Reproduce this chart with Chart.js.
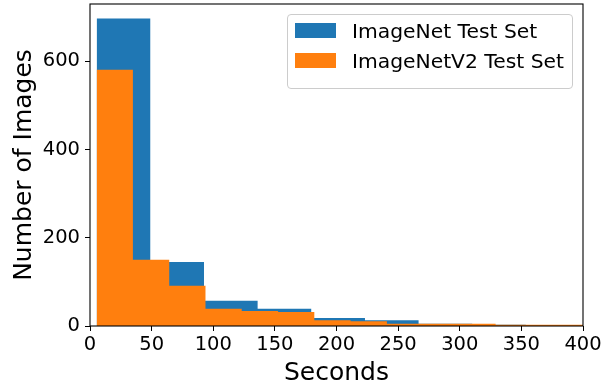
<!DOCTYPE html>
<html>
<head>
<meta charset="utf-8">
<script src="https://cdn.jsdelivr.net/npm/chart.js@4"></script>
<style>
    body { margin: 0; background: #fff; }
    #wrap { position: relative; width: 603px; height: 387px; }
    #legend {
        position: absolute; left: 287px; top: 14px; width: 284px; height: 73px;
        border: 1px solid #cccccc; border-radius: 4px; background: rgba(255,255,255,0.8);
        font-family: 'DejaVu Sans', sans-serif; font-size: 20.3px; color: #000;
    }
    .row { position: absolute; left: 0; height: 20px; line-height: 20.3px; white-space: nowrap; }
    .swatch { position: absolute; left: 7px; width: 41px; height: 15px; }
    .label { position: absolute; left: 64px; top: 0; }
</style>
</head>
<body>
<div id="wrap">
    <canvas id="chart" width="603" height="387"></canvas>
    <div id="legend"></div>
</div>
<script>
// --- DATA ---

const seriesLabels = ['ImageNet Test Set', 'ImageNetV2 Test Set'];
const seriesColors = ['#1f77b4', '#ff7f0e'];

// ImageNet: 10 bins
const imagenetEdges = [5.4, 48.9, 92.5, 136.0, 179.5, 223.1, 266.6, 310.1, 353.6, 397.2, 440.7];
const imagenetCounts = [697, 145, 57, 39, 18, 13, 5, 3, 2, 1];

// ImageNetV2: narrower bins
const v2Edges = [5.4, 34.8, 64.3, 93.7, 123.1, 152.6, 182.0, 211.4, 240.9, 270.3, 299.7, 329.1, 358.6, 388.0, 417.4];
const v2Counts = [581, 150, 91, 39, 34, 32, 13, 11, 5, 5, 5, 3, 3, 3];

const xTicks = [0, 50, 100, 150, 200, 250, 300, 350, 400];
const yTicks = [0, 200, 400, 600];

// --- HELPERS ---

// step outline of a histogram: one point per left edge, plus the final right edge
function histPoints(edges, counts) {
    const pts = counts.map((c, i) => ({ x: edges[i], y: c }));
    pts.push({ x: edges[edges.length - 1], y: counts[counts.length - 1] });
    return pts;
}

function histDataset(label, color, edges, counts, order) {
    return {
        label: label,
        data: histPoints(edges, counts),
        stepped: 'before',
        fill: 'origin',
        backgroundColor: color,
        borderColor: 'rgba(0,0,0,0)',
        borderWidth: 0,
        pointRadius: 0,
        tension: 0,
        order: order
    };
}

// matplotlib style box round the plot area, drawn over the bars
const framePlugin = {
    id: 'frame',
    afterDatasetsDraw(chart) {
        const { ctx, chartArea: a } = chart;
        ctx.save();
        ctx.strokeStyle = '#000';
        ctx.lineWidth = 1.1;
        ctx.strokeRect(a.left, a.top, a.right - a.left, a.bottom - a.top);
        ctx.restore();
    }
};

// --- CHART ---

Chart.defaults.font.family = "'DejaVu Sans', sans-serif";
Chart.defaults.color = '#000';

const tickGrid = { display: true, drawOnChartArea: false, drawTicks: true, tickLength: 5, color: '#000', lineWidth: 1 };

new Chart(document.getElementById('chart'), {
    type: 'line',
    data: {
        datasets: [
            histDataset(seriesLabels[0], seriesColors[0], imagenetEdges, imagenetCounts, 2),
            histDataset(seriesLabels[1], seriesColors[1], v2Edges, v2Counts, 1)
        ]
    },
    options: {
        responsive: false,
        animation: false,
        layout: { padding: { top: 4, right: 20, left: 0, bottom: 0 } },
        plugins: { legend: { display: false }, tooltip: { enabled: false } },
        scales: {
            x: {
                type: 'linear',
                min: 0,
                max: 400,
                border: { display: false },
                grid: tickGrid,
                ticks: { font: { size: 19.5 }, padding: 2, maxRotation: 0 },
                afterBuildTicks: s => { s.ticks = xTicks.map(v => ({ value: v })); },
                afterFit: s => { s.height = 61; s.paddingLeft = 0; s.paddingRight = 0; },
                title: { display: true, text: 'Seconds', font: { size: 25 }, padding: { top: 0, bottom: -1 } }
            },
            y: {
                min: 0,
                max: 730,
                border: { display: false },
                grid: tickGrid,
                ticks: { font: { size: 19.5 }, padding: 5 },
                afterBuildTicks: s => { s.ticks = yTicks.map(v => ({ value: v })); },
                afterFit: s => { s.width = 90; s.paddingTop = 0; s.paddingBottom = 0; },
                title: { display: true, text: 'Number of Images', font: { size: 25 }, padding: { top: 9, bottom: 0 } }
            }
        }
    },
    plugins: [framePlugin]
});

// --- LEGEND (html, over the plot area) ---

const legendEl = document.getElementById('legend');
seriesLabels.forEach((label, i) => {
    const row = document.createElement('div');
    row.className = 'row';
    row.style.top = (6 + i * 30) + 'px';
    row.innerHTML = `<span class="swatch" style="top:2px;background:${seriesColors[i]}"></span><span class="label">${label}</span>`;
    legendEl.appendChild(row);
});
</script>
</body>
</html>
